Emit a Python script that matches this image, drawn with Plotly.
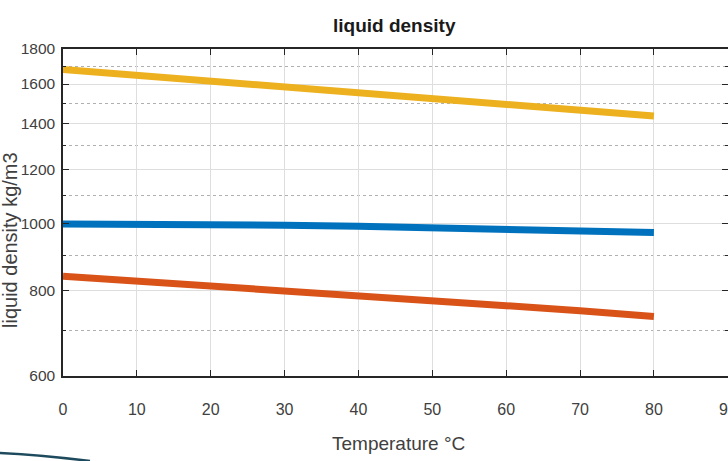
import plotly.graph_objects as go

temperature = [0, 10, 20, 30, 40, 50, 60, 70, 80]
density_blue = [999.8, 999.7, 998.2, 995.7, 992.2, 988.0, 983.2, 977.8, 971.8]
density_orange = [839, 826, 813, 800, 786, 773, 760, 747, 733]
density_yellow = [1680, 1648, 1616, 1585, 1554, 1524, 1495, 1466, 1437]

y_ticks = [600, 800, 1000, 1200, 1400, 1600, 1800]
y_minor = [700, 900, 1100, 1300, 1500, 1700]
x_ticks = [0, 10, 20, 30, 40, 50, 60, 70, 80, 90]

FONT = "Liberation Sans Narrow, Arial Narrow, Liberation Sans, Arial, sans-serif"
TXT = "#404040"

fig = go.Figure()
for vals, col in [(density_blue, "#0072BD"), (density_orange, "#D95319"), (density_yellow, "#EDB120")]:
    fig.add_trace(go.Scatter(x=temperature, y=vals, mode="lines",
                             line=dict(color=col, width=7), showlegend=False))

W, H = 728, 461
L, R, T, B = 63, 0, 49, 85

fig.update_layout(
    width=W, height=H,
    margin=dict(l=L, r=R, t=T, b=B, autoexpand=False),
    paper_bgcolor="white", plot_bgcolor="white",
    font=dict(family=FONT, color=TXT, size=16),
    showlegend=False,
)

fig.update_xaxes(
    range=[0, 90.03], tickvals=x_ticks, ticktext=[str(v) for v in x_ticks],
    showline=True, linecolor="#262626", linewidth=1.5, mirror="ticks",
    ticks="inside", ticklen=6, tickcolor="#262626", tickwidth=1.2,
    showgrid=True, gridcolor="#dedede", gridwidth=1,
    zeroline=False, ticklabelstandoff=18, ticklabeloverflow="allow",
    tickfont=dict(family=FONT, size=16, color=TXT),
)
fig.update_yaxes(
    type="log", range=[2.77815, 3.25527],
    tickvals=y_ticks, ticktext=[str(v) for v in y_ticks],
    showline=True, linecolor="#262626", linewidth=1.5, mirror="ticks",
    ticks="inside", ticklen=6, tickcolor="#262626", tickwidth=1.2,
    showgrid=True, gridcolor="#dedede", gridwidth=1,
    zeroline=False, ticklabelstandoff=3,
    tickfont=dict(family=FONT, size=15.5, color=TXT),
    minor=dict(tickmode="array", tickvals=y_minor, ticks="inside", ticklen=3,
               tickcolor="#262626", showgrid=True, gridcolor="#b0b0b0",
               griddash="dot", gridwidth=1.2),
)

pw = W - L - R
ph = H - T - B

# title
fig.add_annotation(text="<b>liquid density</b>", xref="paper", yref="paper",
                   x=(394 - L) / pw, y=((H - B) - 25) / ph, xanchor="center", yanchor="middle",
                   showarrow=False, font=dict(family=FONT, size=19, color="#1a1a1a"))
# x title
fig.add_annotation(text="Temperature °C", xref="paper", yref="paper",
                   x=(398 - L) / pw, y=-(443 - (H - B)) / ph, xanchor="center", yanchor="middle",
                   showarrow=False, font=dict(family=FONT, size=19, color=TXT))
# y title
fig.add_annotation(text="liquid density kg/m3", xref="paper", yref="paper",
                   x=(10 - L) / pw, y=((H - B) - 240) / ph, xanchor="center", yanchor="middle",
                   textangle=-90, showarrow=False, font=dict(family=FONT, size=20, color=TXT))

# decorative stroke at bottom-left
fig.add_shape(type="path", xref="paper", yref="paper",
              path=f"M {(-2 - L)/pw} {-(453 - (H - B))/ph} Q {(40 - L)/pw} {-(455 - (H - B))/ph} {(90 - L)/pw} {-(461 - (H - B))/ph}",
              line=dict(color="#1d4a5c", width=2.5), layer="above")

fig.write_html("out.html", config={"displayModeBar": False},
               post_script="document.body.style.margin='0';document.body.style.overflow='hidden';")
